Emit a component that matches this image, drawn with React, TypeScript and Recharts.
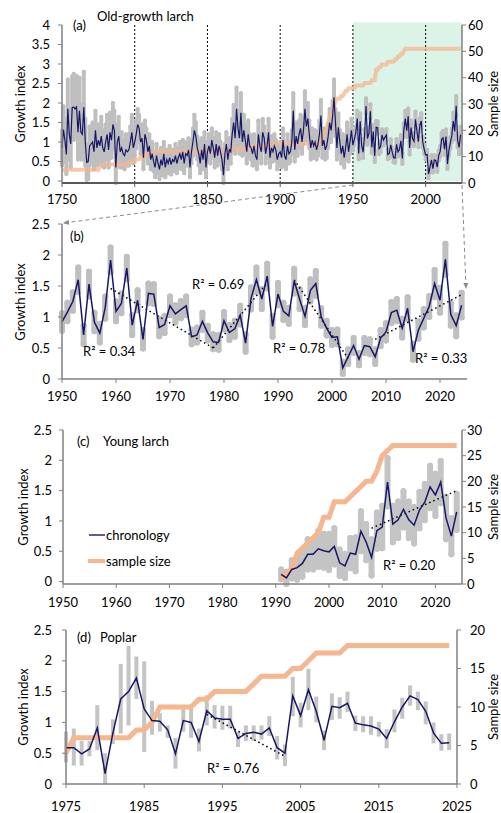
import React from 'react';
import { ComposedChart, Line, XAxis, YAxis, ErrorBar, ReferenceLine, ReferenceArea } from 'recharts';

const FONT = 'Lato, "Open Sans", sans-serif';
const NAVY = '#171766';
const GRAY = '#bfbfbf';
const ORANGE = '#f5b690';
const AXIS = '#808080';

// ---------- Panel (a)/(b): old-growth larch, 1750-2024 ----------
const oldStartYear = 1750;
const oldChron = [
  0.85, 1.32, 1.05, 0.68, 1.85, 1.2, 0.95, 1.88, 1.9, 1.85,
  1.9, 1.25, 1.8, 1.25, 1.2, 1.9, 1.0, 0.48, 0.5, 0.9,
  0.95, 1.0, 0.75, 1.3, 0.85, 1.05, 0.9, 1.15, 0.85, 0.75,
  1.0, 1.2, 0.8, 1.25, 1.05, 1.45, 1.3, 0.35, 1.0, 1.15,
  0.75, 0.85, 0.7, 0.65, 0.8, 0.75, 0.8, 1.0, 1.25, 0.85,
  1.0, 1.2, 1.45, 1.35, 1.0, 1.1, 0.6, 1.2, 1.05, 0.75,
  0.9, 0.55, 0.7, 0.5, 0.35, 0.65, 0.45, 0.3, 0.55, 0.4,
  0.7, 0.35, 0.55, 0.45, 0.6, 0.42, 0.55, 0.5, 0.65, 0.45,
  0.6, 0.7, 0.55, 0.75, 0.45, 0.7, 0.65, 0.8, 0.35, 0.75,
  1.0, 1.3, 1.15, 0.85, 0.7, 0.45, 0.8, 0.55, 0.95, 0.35,
  0.75, 0.9, 0.7, 1.05, 0.85, 0.6, 0.95, 0.65, 0.9, 0.75,
  0.55, 0.15, 0.7, 0.95, 0.55, 0.8, 0.75, 1.2, 1.5, 1.1,
  1.85, 1.35, 1.1, 1.75, 1.0, 1.3, 1.05, 0.75, 1.2, 0.9,
  0.85, 0.7, 0.9, 0.65, 0.55, 1.2, 0.9, 0.75, 1.25, 1.1,
  0.7, 0.9, 1.25, 0.6, 0.85, 0.75, 0.9, 0.8, 0.55, 0.7,
  0.75, 0.6, 1.05, 0.65, 0.55, 0.9, 0.7, 0.75, 1.0, 1.8,
  0.8, 1.15, 0.95, 1.2, 1.35, 1.0, 1.3, 1.85, 1.4, 1.6,
  1.2, 0.85, 1.05, 0.9, 1.0, 0.8, 0.95, 1.2, 1.68, 0.9,
  1.05, 0.8, 0.9, 1.15, 1.5, 1.3, 1.65, 2.15, 1.5, 0.85,
  1.38, 1.0, 0.7, 0.9, 0.6, 0.85, 1.2, 0.75, 1.0, 1.3,
  0.92, 1.08, 1.25, 1.6, 0.71, 1.53, 0.92, 0.74, 1.15, 1.92,
  1.09, 1.22, 1.79, 0.87, 1.27, 0.64, 1.38, 1.37, 0.83, 0.88,
  1.18, 1.05, 1.12, 1.18, 0.68, 0.71, 0.93, 0.74, 0.6, 0.59,
  0.94, 0.75, 0.81, 1.03, 0.58, 1.3, 1.6, 1.29, 1.66, 0.85,
  1.37, 1.09, 1.02, 1.58, 1.29, 1.01, 1.43, 1.54, 1.0, 0.82,
  0.67, 0.68, 0.18, 0.36, 0.54, 0.32, 0.54, 0.52, 0.36, 0.66,
  0.76, 1.07, 1.11, 0.82, 1.14, 0.44, 0.79, 0.98, 1.17, 1.54,
  1.27, 1.93, 1.04, 0.86, 1.19,
];
const oldSpread = [
  0.45, 0.6, 0.55, 0.5, 0.75, 0.65, 0.6, 0.8, 0.85, 0.75,
  0.8, 0.7, 0.85, 0.7, 0.65, 0.9, 0.6, 0.45, 0.45, 0.5,
  0.45, 0.5, 0.45, 0.5, 0.45, 0.4, 0.45, 0.5, 0.45, 0.4,
  0.45, 0.5, 0.45, 0.5, 0.45, 0.55, 0.5, 0.4, 0.45, 0.5,
  0.4, 0.4, 0.35, 0.35, 0.4, 0.35, 0.4, 0.4, 0.45, 0.4,
  0.35, 0.35, 0.4, 0.35, 0.3, 0.35, 0.3, 0.35, 0.3, 0.3,
  0.3, 0.25, 0.3, 0.25, 0.25, 0.3, 0.25, 0.25, 0.3, 0.25,
  0.3, 0.25, 0.25, 0.25, 0.3, 0.25, 0.25, 0.25, 0.3, 0.25,
  0.25, 0.3, 0.25, 0.3, 0.25, 0.3, 0.25, 0.3, 0.25, 0.3,
  0.35, 0.4, 0.35, 0.3, 0.3, 0.25, 0.3, 0.25, 0.3, 0.25,
  0.25, 0.3, 0.25, 0.3, 0.25, 0.25, 0.3, 0.25, 0.3, 0.25,
  0.25, 0.2, 0.25, 0.3, 0.25, 0.3, 0.3, 0.4, 0.45, 0.4,
  0.55, 0.45, 0.4, 0.5, 0.35, 0.4, 0.35, 0.3, 0.35, 0.3,
  0.3, 0.3, 0.3, 0.25, 0.25, 0.35, 0.3, 0.3, 0.35, 0.3,
  0.25, 0.3, 0.35, 0.25, 0.3, 0.25, 0.3, 0.25, 0.25, 0.25,
  0.25, 0.25, 0.3, 0.25, 0.25, 0.3, 0.25, 0.25, 0.3, 0.45,
  0.3, 0.35, 0.3, 0.35, 0.35, 0.3, 0.35, 0.45, 0.35, 0.4,
  0.35, 0.3, 0.3, 0.3, 0.3, 0.25, 0.3, 0.35, 0.4, 0.3,
  0.3, 0.25, 0.3, 0.3, 0.35, 0.3, 0.4, 0.45, 0.35, 0.3,
  0.35, 0.3, 0.25, 0.3, 0.25, 0.3, 0.3, 0.25, 0.3, 0.3,
  0.14, 0.15, 0.15, 0.2, 0.15, 0.2, 0.15, 0.15, 0.18, 0.2,
  0.16, 0.16, 0.18, 0.16, 0.16, 0.15, 0.16, 0.16, 0.14, 0.14,
  0.15, 0.14, 0.14, 0.15, 0.12, 0.12, 0.14, 0.12, 0.12, 0.12,
  0.14, 0.12, 0.13, 0.15, 0.14, 0.18, 0.2, 0.16, 0.2, 0.17,
  0.18, 0.14, 0.13, 0.2, 0.16, 0.14, 0.18, 0.2, 0.14, 0.12,
  0.12, 0.12, 0.1, 0.12, 0.12, 0.1, 0.12, 0.12, 0.12, 0.13,
  0.14, 0.17, 0.18, 0.15, 0.18, 0.13, 0.14, 0.15, 0.17, 0.22,
  0.2, 0.25, 0.18, 0.17, 0.2,
];
const oldSample = [
  5, 5, 5, 5, 5, 5, 5, 5, 5, 5,
  5, 5, 5, 5, 5, 5, 5, 5, 5, 5,
  5, 5, 5, 5, 5, 5, 6, 7, 7, 7,
  7, 7, 7, 7, 7, 7, 7, 7, 7, 7,
  7, 7, 7, 7, 7, 7, 8, 8, 8, 8,
  8, 9, 9, 9, 10, 10, 10, 10, 11, 11,
  11, 11, 11, 12, 12, 12, 12, 12, 12, 12,
  12, 12, 12, 12, 12, 12, 12, 12, 12, 12,
  12, 12, 12, 12, 12, 12, 12, 12, 12, 12,
  12, 12, 12, 12, 12, 12, 12, 12, 12, 12,
  12, 12, 12, 12, 12, 12, 12, 12, 12, 12,
  12, 12, 12, 12, 12, 12, 12, 13, 13, 13,
  13, 13, 13, 13, 13, 13, 13, 13, 13, 13,
  14, 14, 14, 14, 14, 14, 14, 14, 14, 14,
  14, 14, 14, 15, 15, 15, 15, 15, 15, 15,
  15, 15, 15, 15, 15, 15, 15, 15, 15, 15,
  15, 15, 15, 15, 15, 15, 15, 15, 15, 15,
  15, 15, 15, 15, 15, 15, 15, 15, 16, 17,
  18, 20, 21, 23, 25, 26, 27, 29, 31, 32,
  32, 32, 33, 33, 34, 35, 35, 36, 36, 36,
  36, 36, 37, 37, 37, 37, 37, 37, 38, 38,
  38, 38, 38, 39, 39, 39, 43, 43, 44, 44,
  45, 45, 45, 45, 46, 46, 46, 46, 46, 47,
  47, 48, 48, 49, 49, 50, 51, 51, 51, 51,
  51, 51, 51, 51, 51, 51, 51, 51, 51, 51,
  51, 51, 51, 51, 51, 51, 51, 51, 51, 51,
  51, 51, 51, 51, 51, 51, 51, 51, 51, 51,
  51, 51, 51, 51, 51,
];
const oldXTicks = [1750, 1800, 1850, 1900, 1950, 2000];
const oldYTicks = [0, 0.5, 1, 1.5, 2, 2.5, 3, 3.5, 4];
const oldSampleTicks = [0, 10, 20, 30, 40, 50, 60];
const oldDividers = [1800, 1850, 1900, 1950, 2000];
const recentXTicks = [1950, 1960, 1970, 1980, 1990, 2000, 2010, 2020];
const recentYTicks = [0, 0.5, 1, 1.5, 2, 2.5];
const recentTrends = [
  { from: [1959, 1.46], to: [1978, 0.5] },
  { from: [1978, 0.5], to: [1988, 1.55] },
  { from: [1993, 1.6], to: [2003, 0.33] },
  { from: [2008, 0.64], to: [2024, 1.36] },
];

// ---------- Panel (c): young larch, 1991-2024 ----------
const youngStartYear = 1991;
const youngChron = [
  0.12, 0.06, 0.2, 0.23, 0.3, 0.45, 0.45, 0.54, 0.51, 0.49,
  0.58, 0.31, 0.26, 0.47, 0.45, 0.83, 0.65, 0.4, 0.84, 0.9,
  1.64, 0.95, 1.02, 1.19, 1.02, 0.93, 1.18, 1.31, 1.56, 1.43,
  1.64, 1.05, 0.75, 1.15,
];
const youngSpread = [
  0.08, 0.1, 0.15, 0.2, 0.22, 0.25, 0.25, 0.3, 0.28, 0.3,
  0.3, 0.22, 0.2, 0.25, 0.28, 0.33, 0.3, 0.3, 0.3, 0.35,
  0.4, 0.3, 0.3, 0.3, 0.3, 0.3, 0.3, 0.3, 0.35, 0.35,
  0.35, 0.35, 0.3, 0.3,
];
const youngSample = [
  1, 2, 3, 6, 7, 8, 9, 10, 13, 13,
  16, 16, 16, 17, 18, 19, 20, 20, 22, 25,
  26, 27, 27, 27, 27, 27, 27, 27, 27, 27,
  27, 27, 27, 27,
];
const youngSampleTicks = [0, 5, 10, 15, 20, 25, 30];
const youngTrend = { from: [2008, 0.88], to: [2024, 1.5] };

// ---------- Panel (d): poplar, 1975-2024 ----------
const poplarStartYear = 1975;
const poplarChron = [
  0.59, 0.59, 0.49, 0.57, 0.91, 0.17, 0.83, 1.38, 1.5, 1.72,
  1.22, 1.03, 1.02, 0.88, 0.49, 1.03, 1.0, 0.69, 1.19, 1.07,
  1.05, 1.05, 0.74, 0.82, 0.84, 0.81, 0.91, 0.59, 0.5, 1.43,
  1.11, 1.53, 1.18, 0.71, 1.26, 1.24, 1.31, 0.99, 0.96, 0.94,
  0.89, 0.74, 1.01, 1.25, 1.43, 1.37, 1.18, 0.83, 0.66, 0.67,
];
const poplarLow = [
  0.35, 0.3, 0.3, 0.45, 0.55, 0.0, 0.65, 0.82, 0.95, 1.38,
  0.52, 0.8, 0.85, 0.75, 0.25, 0.85, 0.75, 0.53, 0.95, 0.9,
  0.88, 0.9, 0.6, 0.7, 0.7, 0.72, 0.78, 0.4, 0.29, 1.1,
  0.92, 1.2, 1.0, 0.55, 1.04, 1.06, 1.17, 0.86, 0.84, 0.8,
  0.77, 0.58, 0.84, 1.06, 1.27, 1.2, 0.97, 0.66, 0.54, 0.55,
];
const poplarHigh = [
  0.85, 0.9, 0.7, 0.7, 1.28, 0.5, 1.05, 1.95, 2.24, 2.07,
  1.99, 1.35, 1.15, 0.95, 0.75, 1.22, 1.23, 0.9, 1.44, 1.28,
  1.27, 1.27, 0.85, 0.95, 0.95, 0.95, 1.1, 0.78, 0.64, 1.74,
  1.32, 1.87, 1.42, 0.87, 1.47, 1.41, 1.5, 1.11, 1.1, 1.1,
  1.01, 0.89, 1.21, 1.4, 1.6, 1.5, 1.34, 1.0, 0.81, 0.82,
];
const poplarSample = [
  4, 6, 6, 6, 6, 6, 6, 6, 6, 7,
  7, 8, 10, 10, 10, 10, 10, 11, 11, 12,
  12, 12, 12, 12, 13, 14, 14, 14, 14, 15,
  15, 16, 17, 17, 17, 17, 18, 18, 18, 18,
  18, 18, 18, 18, 18, 18, 18, 18, 18, 18,
];
const poplarXTicks = [1975, 1985, 1995, 2005, 2015, 2025];
const poplarSampleTicks = [0, 5, 10, 15, 20];
const poplarTrend = { from: [1993, 1.13], to: [2003, 0.45] };

// ---------- derived tables ----------
const oldData = oldChron.map((v, i) => ({
  year: oldStartYear + i,
  v,
  err: oldSpread[i],
  n: oldSample[i],
}));
const recentData = oldData.filter((d) => d.year >= 1950);
const youngData = youngChron.map((v, i) => ({
  year: youngStartYear + i,
  v,
  err: youngSpread[i],
  n: youngSample[i],
}));
const poplarData = poplarChron.map((v, i) => ({
  year: poplarStartYear + i,
  v,
  err: [v - poplarLow[i], poplarHigh[i] - v],
  n: poplarSample[i],
}));

const tickStyle = { fill: '#000', fontSize: 13, fontFamily: FONT };
const axisLine = { stroke: AXIS, strokeWidth: 1.5 };
const tickLine = { stroke: AXIS, strokeWidth: 1 };

const seg = (t: { from: number[]; to: number[] }) => [
  { x: t.from[0], y: t.from[1] },
  { x: t.to[0], y: t.to[1] },
];

function PanelA() {
  return (
    <ComposedChart width={501} height={215} data={oldData} margin={{ top: 25, right: 0, bottom: 10, left: 0 }}>
      <XAxis dataKey="year" type="number" domain={[1750, 2025]} ticks={oldXTicks} interval={0} height={22}
        tickSize={4} tickMargin={8} axisLine={{ stroke: '#595959', strokeWidth: 2 }} tickLine={{ stroke: '#595959' }} tick={tickStyle} />
      <YAxis yAxisId="l" width={62} domain={[0, 4]} ticks={oldYTicks} interval={0} tickSize={4} tickMargin={8}
        axisLine={axisLine} tickLine={tickLine} tick={tickStyle} />
      <YAxis yAxisId="r" orientation="right" width={39} domain={[0, 60]} ticks={oldSampleTicks} interval={0}
        tickSize={4} tickMargin={2} axisLine={axisLine} tickLine={tickLine} tick={tickStyle} />
      <ReferenceArea yAxisId="l" x1={1950} x2={2025} y1={0} y2={4.07} fill="#6fd39f" fillOpacity={0.25}
        stroke="none" ifOverflow="visible" />
      {oldDividers.map((x) => (
        <ReferenceLine key={x} yAxisId="l" x={x} stroke="#000" strokeWidth={1} strokeDasharray="2 2" />
      ))}
      <Line yAxisId="l" dataKey="v" stroke="none" dot={false} activeDot={false} isAnimationActive={false}>
        <ErrorBar dataKey="err" direction="y" width={0} stroke={GRAY} strokeWidth={4} strokeLinecap="round"
          isAnimationActive={false} />
      </Line>
      <Line yAxisId="r" dataKey="n" stroke={ORANGE} strokeOpacity={0.75} strokeWidth={4} dot={false}
        activeDot={false} isAnimationActive={false} />
      <Line yAxisId="l" dataKey="v" stroke={NAVY} strokeWidth={1.2} dot={false} activeDot={false}
        isAnimationActive={false} />
    </ComposedChart>
  );
}

function PanelB() {
  return (
    <ComposedChart width={501} height={215} data={recentData} margin={{ top: 24, right: 34, bottom: 14, left: 0 }}>
      <XAxis dataKey="year" type="number" domain={[1950, 2025]} ticks={recentXTicks} interval={0} height={22}
        tickSize={4} tickMargin={9} axisLine={axisLine} tickLine={tickLine} tick={tickStyle} />
      <YAxis width={62} domain={[0, 2.5]} ticks={recentYTicks} interval={0} tickSize={4} tickMargin={8}
        axisLine={axisLine} tickLine={tickLine} tick={tickStyle} />
      <Line dataKey="v" stroke="none" dot={false} activeDot={false} isAnimationActive={false}>
        <ErrorBar dataKey="err" direction="y" width={0} stroke={GRAY} strokeWidth={6} strokeLinecap="round"
          isAnimationActive={false} />
      </Line>
      {recentTrends.map((t, i) => (
        <ReferenceLine key={i} segment={seg(t)} stroke="#000" strokeWidth={1.5} strokeDasharray="1.5 3" />
      ))}
      <Line dataKey="v" stroke={NAVY} strokeWidth={1.5} dot={false} activeDot={false} isAnimationActive={false} />
    </ComposedChart>
  );
}

function PanelC() {
  return (
    <ComposedChart width={501} height={215} data={youngData} margin={{ top: 25, right: 0, bottom: 14, left: 0 }}>
      <XAxis dataKey="year" type="number" domain={[1950, 2025]} ticks={recentXTicks} interval={0} height={22}
        tickSize={4} tickMargin={10} axisLine={axisLine} tickLine={tickLine} tick={tickStyle} />
      <YAxis yAxisId="l" width={63} domain={[0, 2.5]} ticks={recentYTicks} interval={0} tickSize={4} tickMargin={7}
        axisLine={axisLine} tickLine={tickLine} tick={tickStyle} />
      <YAxis yAxisId="r" orientation="right" width={39} domain={[0, 30]} ticks={youngSampleTicks} interval={0}
        tickSize={4} tickMargin={1} axisLine={axisLine} tickLine={tickLine} tick={tickStyle} />
      <Line yAxisId="l" dataKey="v" stroke="none" dot={false} activeDot={false} isAnimationActive={false}>
        <ErrorBar dataKey="err" direction="y" width={0} stroke="#c4c4c4" strokeWidth={6} strokeLinecap="round"
          isAnimationActive={false} />
      </Line>
      <Line yAxisId="r" dataKey="n" stroke={ORANGE} strokeWidth={5} dot={false} activeDot={false}
        isAnimationActive={false} />
      <ReferenceLine yAxisId="l" segment={seg(youngTrend)} stroke="#000" strokeWidth={1.5} strokeDasharray="1.5 3" />
      <Line yAxisId="l" dataKey="v" stroke={NAVY} strokeWidth={1.5} dot={false} activeDot={false}
        isAnimationActive={false} />
    </ComposedChart>
  );
}

function PanelD() {
  return (
    <ComposedChart width={501} height={215} data={poplarData} margin={{ top: 25, right: 0, bottom: 14, left: 0 }}>
      <XAxis dataKey="year" type="number" domain={[1975, 2025]} ticks={poplarXTicks} interval={0} height={22}
        tickSize={4} tickMargin={14} axisLine={axisLine} tickLine={tickLine} tick={tickStyle} />
      <YAxis yAxisId="l" width={66} domain={[0, 2.5]} ticks={recentYTicks} interval={0} tickSize={4} tickMargin={10}
        axisLine={axisLine} tickLine={tickLine} tick={tickStyle} />
      <YAxis yAxisId="r" orientation="right" width={44} domain={[0, 20]} ticks={poplarSampleTicks} interval={0}
        tickSize={4} tickMargin={9} axisLine={axisLine} tickLine={tickLine} tick={tickStyle} />
      <Line yAxisId="l" dataKey="v" stroke="none" dot={false} activeDot={false} isAnimationActive={false}>
        <ErrorBar dataKey="err" direction="y" width={0} stroke="#c4c4c4" strokeWidth={4} strokeLinecap="butt"
          isAnimationActive={false} />
      </Line>
      <Line yAxisId="r" dataKey="n" stroke={ORANGE} strokeWidth={5} dot={false} activeDot={false}
        isAnimationActive={false} />
      <ReferenceLine yAxisId="l" segment={seg(poplarTrend)} stroke="#000" strokeWidth={1.5} strokeDasharray="1.5 3" />
      <Line yAxisId="l" dataKey="v" stroke={NAVY} strokeWidth={1.5} dot={false} activeDot={false}
        isAnimationActive={false} />
    </ComposedChart>
  );
}

function Overlay() {
  const t = { fontFamily: FONT, fontSize: 13, fill: '#000', dominantBaseline: 'central' as const };
  return (
    <svg width={501} height={813} style={{ position: 'absolute', left: 0, top: 0, pointerEvents: 'none' }}>
      <defs>
        <marker id="arrowHead" markerWidth="6" markerHeight="6" refX="5" refY="3" orient="auto">
          <path d="M0,0.5 L6,3 L0,5.5 z" fill="#8a8a8a" />
        </marker>
      </defs>
      <line x1={353} y1={185} x2={64} y2={223} stroke="#8a8a8a" strokeWidth={1} strokeDasharray="4 3"
        markerEnd="url(#arrowHead)" />
      <line x1={462} y1={185} x2={466} y2={288} stroke="#8a8a8a" strokeWidth={1} strokeDasharray="4 3"
        markerEnd="url(#arrowHead)" />

      <text {...t} x={73} y={25}>(a)</text>
      <text {...t} x={97} y={16}>Old-growth larch</text>
      <text {...t} x={70} y={236}>(b)</text>
      <text {...t} x={77} y={441}>(c)</text>
      <text {...t} x={103} y={441}>Young larch</text>
      <text {...t} x={77} y={637}>(d)</text>
      <text {...t} x={100} y={637}>Poplar</text>

      <text {...t} x={83} y={351}>R² = 0.34</text>
      <text {...t} x={192} y={284}>R² = 0.69</text>
      <text {...t} x={273} y={348}>R² = 0.78</text>
      <text {...t} x={415} y={358}>R² = 0.33</text>
      <text {...t} x={383} y={565}>R² = 0.20</text>
      <text {...t} x={207} y={768}>R² = 0.76</text>

      <line x1={89} y1={535} x2={105} y2={535} stroke={NAVY} strokeOpacity={0.7} strokeWidth={2} />
      <text {...t} x={106} y={535}>chronology</text>
      <line x1={88} y1={561} x2={105} y2={561} stroke={ORANGE} strokeWidth={4} />
      <text {...t} x={106} y={561}>sample size</text>

      {[
        [20, 104],
        [20, 302],
        [23, 507],
        [23, 707],
      ].map(([x, y], i) => (
        <text key={'g' + i} {...t} x={x} y={y} textAnchor="middle" transform={`rotate(-90 ${x} ${y})`}>
          Growth index
        </text>
      ))}
      {[
        [493, 104],
        [493, 507],
        [493, 707],
      ].map(([x, y], i) => (
        <text key={'s' + i} {...t} x={x} y={y} textAnchor="middle" transform={`rotate(-90 ${x} ${y})`}>
          Sample size
        </text>
      ))}
    </svg>
  );
}

export default function App() {
  return (
    <div style={{ position: 'absolute', left: 0, top: 0, width: 501, height: 813, background: '#fff' }}>
      <div style={{ position: 'absolute', left: 0, top: 0 }}><PanelA /></div>
      <div style={{ position: 'absolute', left: 0, top: 200 }}><PanelB /></div>
      <div style={{ position: 'absolute', left: 0, top: 405 }}><PanelC /></div>
      <div style={{ position: 'absolute', left: 0, top: 605 }}><PanelD /></div>
      <Overlay />
    </div>
  );
}
